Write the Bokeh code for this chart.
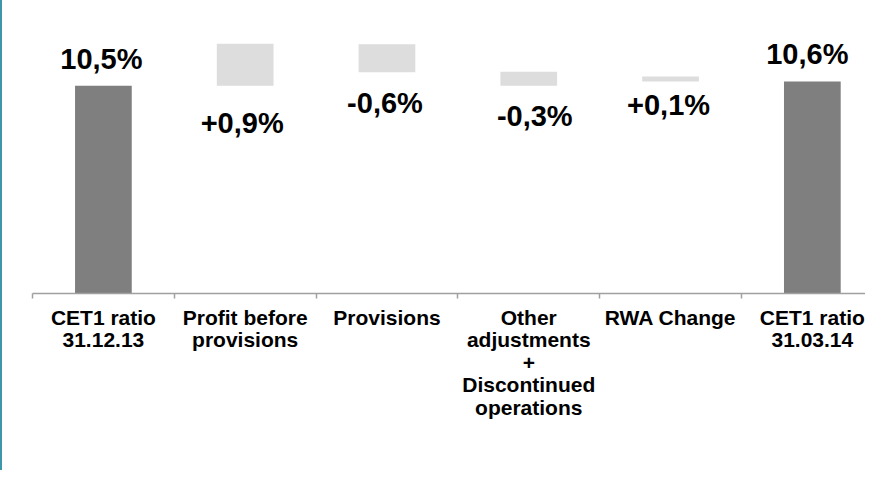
from bokeh.plotting import figure
from bokeh.models import Range1d, FixedTicker, ColumnDataSource
from bokeh.core.properties import value
from bokeh.embed import file_html
from bokeh.resources import INLINE

# ---- data ----
categories = ["CET1 ratio\n31.12.13", "Profit before\nprovisions", "Provisions",
              "Other\nadjustments\n+\nDiscontinued\noperations", "RWA Change",
              "CET1 ratio\n31.03.14"]
is_total = [True, False, False, False, False, True]
bar_top = [10.5, 11.4, 11.39, 10.8, 10.7, 10.59]
bar_bottom_delta = [None, 10.5, 10.79, 10.5, 10.59, None]
value_labels = ["10,5%", "+0,9%", "-0,6%", "-0,3%", "+0,1%", "10,6%"]

Y_START = 6.05
Y_END = 12.328

# ---- derived ----
xs = list(range(len(categories)))
tot_x = [x for x, t in zip(xs, is_total) if t]
tot_top = [v for v, t in zip(bar_top, is_total) if t]
dl_x = [x for x, t in zip(xs, is_total) if not t]
dl_top = [v for v, t in zip(bar_top, is_total) if not t]
dl_bot = [b for b, t in zip(bar_bottom_delta, is_total) if not t]

anchor = [top if t else bot for top, bot, t in zip(bar_top, bar_bottom_delta, is_total)]
lab_dx = [-2, -3, -2, 6, -2, -5]
lab_dy = [-27, 37, 31, 30, 23, -28]

p = figure(width=865, height=470,
           x_range=Range1d(-0.5, 5.389), y_range=Range1d(Y_START, Y_END),
           output_backend="svg", toolbar_location=None,
           min_border_left=30, min_border_right=0, min_border_top=0,
           min_border_bottom=177)
p.styles = {"border-left": "2px solid #3D97A8"}

p.vbar(x=tot_x, top=tot_top, bottom=Y_START, width=0.40,
       fill_color="#7F7F7F", line_color=None)
p.vbar(x=dl_x, top=dl_top, bottom=dl_bot, width=0.40,
       fill_color="#DDDDDD", line_color=None)

src = ColumnDataSource(dict(x=xs, y=anchor, text=value_labels, dx=lab_dx, dy=lab_dy))
p.text(x="x", y="y", text="text", x_offset="dx", y_offset="dy", source=src,
       text_font=value("Liberation Sans"), text_font_style="bold",
       text_font_size="29px", text_align="center", text_baseline="middle",
       text_color="#000000")

p.grid.visible = False
p.outline_line_color = None
p.yaxis.visible = False

ax = p.xaxis[0]
ax.ticker = FixedTicker(ticks=xs, minor_ticks=[x - 0.5 for x in xs] + [xs[-1] + 0.5])
ax.major_label_overrides = {x: c for x, c in zip(xs, categories)}
ax.major_tick_out = 0
ax.major_tick_in = 0
ax.minor_tick_out = 5
ax.minor_tick_in = 0
ax.minor_tick_line_color = "#A0A0A0"
ax.minor_tick_line_width = 1.5
ax.axis_line_color = "#A0A0A0"
ax.axis_line_width = 1.5
ax.major_label_standoff = 7
ax.major_label_text_font = "Liberation Sans"
ax.major_label_text_font_style = "bold"
ax.major_label_text_font_size = "21px"
ax.major_label_text_color = "#000000"
ax.major_label_text_line_height = 0.98

open("out.html", "w").write(file_html(p, INLINE))
